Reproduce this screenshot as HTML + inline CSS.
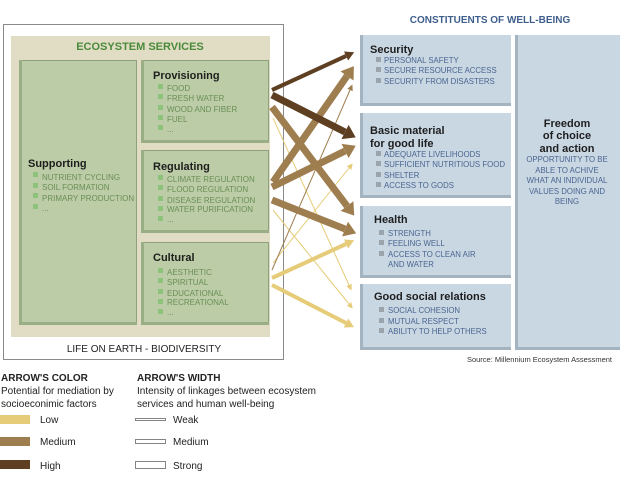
<!DOCTYPE html>
<html><head><meta charset="utf-8"><style>
body{margin:0;width:620px;height:488px;background:#fff;overflow:hidden}
svg text{font-family:"Liberation Sans",sans-serif}
.it{font-size:8px;fill:#6a8f58}
.bi{font-size:7.8px;fill:#4a6590}
.h{font-size:11px;font-weight:bold;fill:#1e1e1e}
</style></head><body>
<svg width="620" height="488" viewBox="0 0 620 488" xmlns="http://www.w3.org/2000/svg">
<defs>
<marker id="hS" markerUnits="userSpaceOnUse" markerWidth="12" markerHeight="16" refX="0" refY="8" orient="auto"><path d="M0,0L12,8L0,16z" fill="#5e3f22"/></marker>
<marker id="hM" markerUnits="userSpaceOnUse" markerWidth="9" markerHeight="10" refX="0" refY="5" orient="auto"><path d="M0,0L9,5L0,10z" fill="#5e3f22"/></marker>
<marker id="mS" markerUnits="userSpaceOnUse" markerWidth="12" markerHeight="16" refX="0" refY="8" orient="auto"><path d="M0,0L12,8L0,16z" fill="#9e7d4f"/></marker>
<marker id="mT" markerUnits="userSpaceOnUse" markerWidth="6" markerHeight="6" refX="0" refY="3" orient="auto"><path d="M0,0L6,3L0,6z" fill="#9e7d4f"/></marker>
<marker id="lM" markerUnits="userSpaceOnUse" markerWidth="9" markerHeight="10" refX="0" refY="5" orient="auto"><path d="M0,0L9,5L0,10z" fill="#e6cc78"/></marker>
<marker id="lT" markerUnits="userSpaceOnUse" markerWidth="6" markerHeight="6" refX="0" refY="3" orient="auto"><path d="M0,0L6,3L0,6z" fill="#e6cc78"/></marker>
</defs>
<rect x="3.5" y="24.5" width="280" height="335" fill="#fff" stroke="#8a8a8a"/>
<rect x="11" y="36" width="259" height="301" fill="#e0ddc4"/>
<text x="140" y="50" text-anchor="middle" font-size="11" font-weight="bold" fill="#4a8a3a">ECOSYSTEM SERVICES</text>
<g fill="#bccca6" stroke="#8fa07c" stroke-width="1">
<rect x="19.5" y="60.5" width="117" height="264"/>
<rect x="141.5" y="60.5" width="127" height="82"/>
<rect x="141.5" y="150.5" width="127" height="82"/>
<rect x="141.5" y="242.5" width="127" height="82"/>
</g>
<g fill="#9aae86"><rect x="19" y="60" width="3" height="265"/><rect x="19" y="322" width="118" height="3"/>
<rect x="141" y="60" width="3" height="83"/><rect x="141" y="140" width="128" height="3"/>
<rect x="141" y="150" width="3" height="83"/><rect x="141" y="230" width="128" height="3"/>
<rect x="141" y="242" width="3" height="83"/><rect x="141" y="322" width="128" height="3"/></g>
<g fill="#8dc27a">
<rect x="33" y="172" width="5" height="5"/><rect x="33" y="183" width="5" height="5"/><rect x="33" y="193" width="5" height="5"/><rect x="33" y="204" width="5" height="5"/>
<rect x="158" y="84" width="5" height="5"/><rect x="158" y="94" width="5" height="5"/><rect x="158" y="105" width="5" height="5"/><rect x="158" y="115" width="5" height="5"/><rect x="158" y="125" width="5" height="5"/>
<rect x="158" y="175" width="5" height="5"/><rect x="158" y="185" width="5" height="5"/><rect x="158" y="196" width="5" height="5"/><rect x="158" y="206" width="5" height="5"/><rect x="158" y="216" width="5" height="5"/>
<rect x="158" y="268" width="5" height="5"/><rect x="158" y="278" width="5" height="5"/><rect x="158" y="289" width="5" height="5"/><rect x="158" y="299" width="5" height="5"/><rect x="158" y="309" width="5" height="5"/>
</g>
<text x="28" y="167" class="h">Supporting</text>
<text x="42" y="180" class="it">NUTRIENT CYCLING</text><text x="42" y="190" class="it">SOIL FORMATION</text><text x="42" y="201" class="it">PRIMARY PRODUCTION</text><text x="42" y="211" class="it">...</text>
<text x="153" y="79" class="h">Provisioning</text>
<text x="167" y="91" class="it">FOOD</text><text x="167" y="101" class="it">FRESH WATER</text><text x="167" y="112" class="it">WOOD AND FIBER</text><text x="167" y="122" class="it">FUEL</text><text x="167" y="132" class="it">...</text>
<text x="153" y="170" class="h">Regulating</text>
<text x="167" y="182" class="it">CLIMATE REGULATION</text><text x="167" y="192" class="it">FLOOD REGULATION</text><text x="167" y="203" class="it">DISEASE REGULATION</text><text x="167" y="212" class="it">WATER PURIFICATION</text><text x="167" y="222" class="it">...</text>
<text x="153" y="261" class="h">Cultural</text>
<text x="167" y="275" class="it">AESTHETIC</text><text x="167" y="285" class="it">SPIRITUAL</text><text x="167" y="296" class="it">EDUCATIONAL</text><text x="167" y="305" class="it">RECREATIONAL</text><text x="167" y="315" class="it">...</text>
<text x="144" y="352" text-anchor="middle" font-size="10" fill="#222">LIFE ON EARTH - BIODIVERSITY</text>
<text x="490" y="23" text-anchor="middle" font-size="10" font-weight="bold" fill="#3e5e8c">CONSTITUENTS OF WELL-BEING</text>
<g fill="#c9d7e3">
<rect x="360" y="35" width="151" height="71"/><rect x="360" y="113" width="151" height="85"/><rect x="360" y="206" width="151" height="72"/><rect x="360" y="284" width="151" height="66"/><rect x="515" y="35" width="105" height="315"/>
</g>
<g fill="#a3b3c0">
<rect x="360" y="35" width="3" height="71"/><rect x="360" y="103" width="151" height="3"/>
<rect x="360" y="113" width="3" height="85"/><rect x="360" y="195" width="151" height="3"/>
<rect x="360" y="206" width="3" height="72"/><rect x="360" y="275" width="151" height="3"/>
<rect x="360" y="284" width="3" height="66"/><rect x="360" y="347" width="151" height="3"/>
<rect x="515" y="35" width="3" height="315"/><rect x="515" y="347" width="105" height="3"/>
</g>
<g fill="#9aa4ad">
<rect x="376" y="57" width="5" height="5"/><rect x="376" y="67" width="5" height="5"/><rect x="376" y="78" width="5" height="5"/>
<rect x="376" y="151" width="5" height="5"/><rect x="376" y="161" width="5" height="5"/><rect x="376" y="172" width="5" height="5"/><rect x="376" y="182" width="5" height="5"/>
<rect x="379" y="230" width="5" height="5"/><rect x="379" y="240" width="5" height="5"/><rect x="379" y="251" width="5" height="5"/>
<rect x="379" y="307" width="5" height="5"/><rect x="379" y="318" width="5" height="5"/><rect x="379" y="328" width="5" height="5"/>
</g>
<text x="370" y="53" class="h">Security</text>
<text x="384" y="63" class="bi">PERSONAL SAFETY</text><text x="384" y="73" class="bi">SECURE RESOURCE ACCESS</text><text x="384" y="84" class="bi">SECURITY FROM DISASTERS</text>
<text x="370" y="134" class="h">Basic material</text><text x="370" y="147" class="h">for good life</text>
<text x="384" y="157" class="bi">ADEQUATE LIVELIHOODS</text><text x="384" y="167" class="bi" textLength="121" lengthAdjust="spacingAndGlyphs">SUFFICIENT NUTRITIOUS FOOD</text><text x="384" y="178" class="bi">SHELTER</text><text x="384" y="188" class="bi">ACCESS TO GODS</text>
<text x="374" y="223" class="h">Health</text>
<text x="388" y="236" class="bi">STRENGTH</text><text x="388" y="246" class="bi">FEELING WELL</text><text x="388" y="257" class="bi">ACCESS TO CLEAN AIR</text><text x="388" y="267" class="bi">AND WATER</text>
<text x="374" y="300" class="h">Good social relations</text>
<text x="388" y="313" class="bi">SOCIAL COHESION</text><text x="388" y="324" class="bi">MUTUAL RESPECT</text><text x="388" y="334" class="bi">ABILITY TO HELP OTHERS</text>
<g text-anchor="middle"><text x="567" y="127" class="h">Freedom</text><text x="567" y="139" class="h">of choice</text><text x="567" y="152" class="h">and action</text>
<text x="567" y="162" class="bi">OPPORTUNITY TO BE</text><text x="567" y="173" class="bi">ABLE TO ACHIVE</text><text x="567" y="183" class="bi">WHAT AN INDIVIDUAL</text><text x="567" y="194" class="bi">VALUES DOING AND</text><text x="567" y="204" class="bi">BEING</text></g>
<text x="612" y="362" text-anchor="end" font-size="7.5" fill="#333">Source: Millennium Ecosystem Assessment</text>
<g fill="none">
<line x1="273" y1="263" x2="349" y2="168" stroke="#e6cc78" stroke-width="1" marker-end="url(#lT)"/>
<line x1="273" y1="118" x2="349" y2="285" stroke="#e6cc78" stroke-width="1" marker-end="url(#lT)"/>
<line x1="273" y1="210" x2="349" y2="304" stroke="#e6cc78" stroke-width="1" marker-end="url(#lT)"/>
<line x1="272" y1="270" x2="350" y2="90" stroke="#9e7d4f" stroke-width="1" marker-end="url(#mT)"/>
<line x1="272" y1="278" x2="346" y2="244" stroke="#e6cc78" stroke-width="4" marker-end="url(#lM)"/>
<line x1="272" y1="285" x2="346" y2="323" stroke="#e6cc78" stroke-width="4" marker-end="url(#lM)"/>
<line x1="272" y1="107" x2="347" y2="206" stroke="#9e7d4f" stroke-width="7" marker-end="url(#mS)"/>
<line x1="273" y1="182" x2="347" y2="76" stroke="#9e7d4f" stroke-width="7" marker-end="url(#mS)"/>
<line x1="272" y1="187" x2="345" y2="151" stroke="#9e7d4f" stroke-width="7" marker-end="url(#mS)"/>
<line x1="272" y1="200" x2="345" y2="229" stroke="#9e7d4f" stroke-width="7" marker-end="url(#mS)"/>
<line x1="272" y1="90" x2="346" y2="56" stroke="#5e3f22" stroke-width="4" marker-end="url(#hM)"/>
<line x1="272" y1="95" x2="345" y2="132" stroke="#5e3f22" stroke-width="7" marker-end="url(#hS)"/>
</g>
<g font-size="10" fill="#222">
<text x="1" y="381" font-weight="bold">ARROW'S COLOR</text>
<text x="1" y="394">Potential for mediation by</text><text x="1" y="407">socioeconimic factors</text>
<text x="137" y="381" font-weight="bold">ARROW'S WIDTH</text>
<text x="137" y="394">Intensity of linkages between ecosystem</text><text x="137" y="407">services and human well-being</text>
<text x="40" y="423">Low</text><text x="40" y="445">Medium</text><text x="40" y="469">High</text>
<text x="173" y="423">Weak</text><text x="173" y="445">Medium</text><text x="173" y="469">Strong</text>
</g>
<rect x="0" y="415" width="30" height="9" fill="#e6cc78"/>
<rect x="0" y="437" width="30" height="9" fill="#9e7d4f"/>
<rect x="0" y="460" width="30" height="9" fill="#5e3f22"/>
<g fill="#fff" stroke="#666" stroke-width="0.8">
<rect x="135.5" y="418.5" width="30" height="2"/>
<rect x="135.5" y="439.5" width="30" height="4"/>
<rect x="135.5" y="461.5" width="30" height="7"/>
</g>
</svg>
</body></html>
